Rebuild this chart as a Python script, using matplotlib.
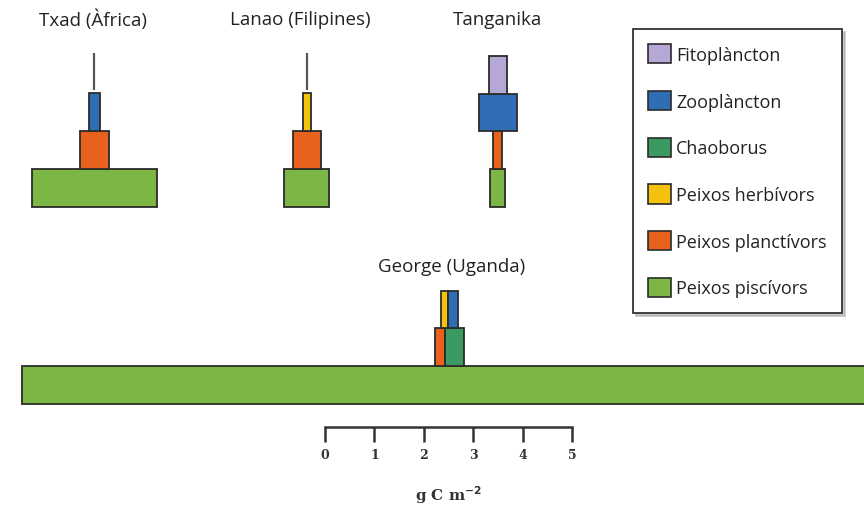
import matplotlib.pyplot as plt
from matplotlib.patches import Patch

# biomass per trophic level, g C m-2
lakes = ['Txad (Àfrica)', 'Lanao (Filipines)', 'Tanganika', 'George (Uganda)']
fitoplancton = [0.02, 0.02, 0.37, 0.0]
zooplancton = [0.22, 0.0, 0.77, 0.20]
chaoborus = [0.0, 0.0, 0.0, 0.39]
herbivors = [0.0, 0.16, 0.0, 0.13]
planctivors = [0.59, 0.57, 0.18, 0.20]
piscivors = [2.54, 0.91, 0.30, 17.3]

labels = ['Fitoplàncton', 'Zooplàncton', 'Chaoborus',
          'Peixos herbívors', 'Peixos planctívors', 'Peixos piscívors']
colors = ['#b5a8d6', '#2f6db5', '#3a9a62', '#f4c20d', '#e8621d', '#7cb644']

# layout: pyramid centre (in g C m-2 from scale zero) and base (pixels)
centers = [-4.67, -0.37, 3.50, 2.52]
title_x = [-4.70, -0.50, 3.50, 2.57]
bases = [207.5, 207.5, 208, 405]
title_y = [20, 20, 20, 267]
LEVEL = 37.8
PX_PER_UNIT = 49.4
W, H = 864, 506
SCALE0 = 325

plt.rcParams['font.family'] = ['Open Sans', 'DejaVu Sans']

fig = plt.figure(figsize=(W / 100, H / 100), dpi=100)
ax = fig.add_axes([0, 0, 1, 1])
ax.set_xlim(-SCALE0 / PX_PER_UNIT, (W - SCALE0) / PX_PER_UNIT)
ax.set_ylim(H, 0)
ax.axis('off')

edge = '#2b2b2b'

for i, lake in enumerate(lakes):
    c = centers[i]
    b = bases[i]
    # each level: list of (value, colour) drawn side by side, centred
    levels = [
        [(piscivors[i], colors[5])],
        [(planctivors[i], colors[4]), (chaoborus[i], colors[2])],
        [(herbivors[i], colors[3]), (zooplancton[i], colors[1])],
        [(fitoplancton[i], colors[0])],
    ]
    for lv, parts in enumerate(levels):
        parts = [p for p in parts if p[0] > 0]
        if not parts:
            continue
        total = sum(p[0] for p in parts)
        left = c - total / 2
        y0 = b - lv * LEVEL
        for val, col in parts:
            if val < 0.05:
                # near-zero biomass shown as a thin line
                ax.vlines(left + val / 2, y0 - LEVEL - 2, y0 - 3, color='#555555', lw=1.6)
            else:
                ax.bar(left, -LEVEL, width=val, bottom=y0, align='edge',
                       color=col, edgecolor=edge, linewidth=1.3, zorder=2)
            left += val
    ax.text(title_x[i], title_y[i], lake, ha='center', va='center',
            fontsize=13.5, color='#222222')

# legend
handles = [Patch(facecolor=col, edgecolor=edge, linewidth=1.2) for col in colors]
leg = ax.legend(handles, labels, loc='upper left',
                bbox_to_anchor=(633 / W, 1 - 30 / H), bbox_transform=fig.transFigure,
                fontsize=13, frameon=True, fancybox=False,
                shadow={'color': '#9a9a9a'},
                handlelength=1.25, handleheight=1.25, handletextpad=0.3,
                labelspacing=1.5, borderpad=0.85, borderaxespad=0)
leg.get_frame().set_edgecolor('#333333')
leg.get_frame().set_linewidth(1.3)
for t in leg.get_texts():
    t.set_color('#222222')

# scale bar
sax = fig.add_axes([SCALE0 / W, 1 - 428 / H, 5 * PX_PER_UNIT / W, 0.0001])
sax.set_xlim(0, 5)
sax.set_yticks([])
for s in ['top', 'left', 'right']:
    sax.spines[s].set_visible(False)
sax.spines['bottom'].set_linewidth(1.8)
sax.spines['bottom'].set_color('#333333')
sax.set_xticks(range(6))
sax.tick_params(axis='x', direction='out', length=11, width=1.8, color='#333333',
                labelsize=9, pad=4)
for t in sax.get_xticklabels():
    t.set_fontfamily(['DejaVu Serif'])
    t.set_fontweight('bold')
    t.set_color('#333333')
sax.set_xlabel('g C m$^{\\mathbf{-2}}$', fontsize=11, fontweight='bold',
               family=['DejaVu Serif'], color='#333333', labelpad=16)

fig.savefig('out.png', dpi=100, facecolor='white')
